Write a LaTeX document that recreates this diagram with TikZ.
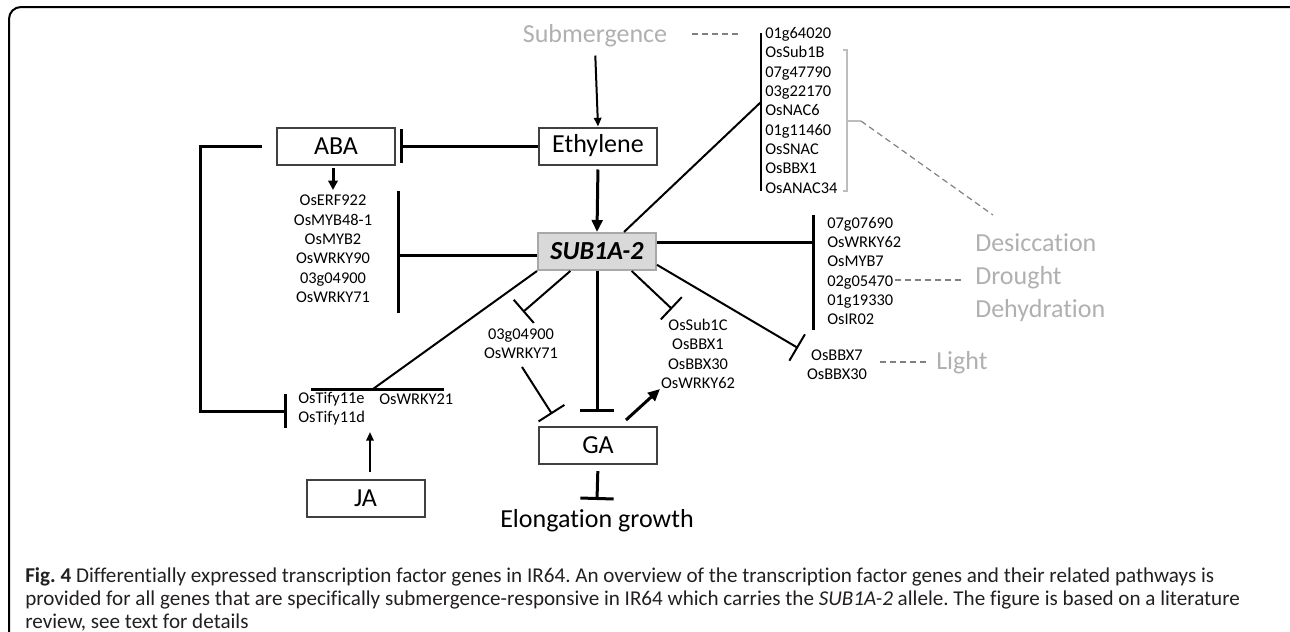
\documentclass[tikz,border=0pt]{standalone}
\usepackage{fontspec}
\usepackage{graphicx}
\setmainfont{Carlito}[Ligatures=NoCommon]
\usetikzlibrary{arrows.meta}
\definecolor{boxgray}{HTML}{404040}
\definecolor{txtgray}{HTML}{B0B0B0}
\definecolor{dashgray}{HTML}{808080}
\definecolor{brgray}{HTML}{BDBDBD}
\definecolor{subfill}{HTML}{D9D9D9}
\definecolor{subdraw}{HTML}{A8A8A8}
\definecolor{captxt}{HTML}{231F20}
\begin{document}
\begin{tikzpicture}[x=0.75pt,y=-0.75pt,
  box/.style={draw=boxgray, line width=1.5pt, minimum width=88.5pt, minimum height=27.75pt, inner sep=0pt, font=\fontsize{19.5}{23}\selectfont},
  big/.style={font=\fontsize{19.5}{23.25}\selectfont, inner sep=0pt},
  lst/.style={font=\fontsize{12.3}{14.5}\selectfont, inner sep=0pt},
  thk/.style={line width=2.25pt},
  thn/.style={line width=1.5pt},
  arrT/.style={-{Triangle[length=9pt,width=8pt]}},
  arrt/.style={-{Triangle[length=6.5pt,width=5.5pt]}},
  inhT/.style={-{Bar[width=25pt]}},
  inht/.style={-{Bar[width=23pt]}},
  dsh/.style={draw=dashgray, line width=0.9pt, dash pattern=on 4.5pt off 3pt},
]
\useasboundingbox (0,0) rectangle (1290,632);
\draw[line width=1.5pt, rounded corners=9pt] (9,7) rectangle (1304,644);

% nodes
\node[big, text=txtgray] (sub) at (595,36) {Submergence};
\node[box] (eth) at (598,146) {Ethylene};
\node[box] (aba) at (336,146) {ABA};
\node[box, fill=subfill, draw=subdraw, font=\fontsize{19.5}{23}\selectfont\bfseries\itshape] (s1a) at (597,251.5) {SUB1A-2};
\node[box] (ga) at (598,445) {GA};
\node[box] (ja) at (365.5,498.5) {JA};
\node[big] (elong) at (597,521) {Elongation growth};
\node[lst, align=center] (abal) at (333,249) {OsERF922\\OsMYB48-1\\OsMYB2\\OsWRKY90\\03g04900\\OsWRKY71};
\node[lst, align=left, anchor=west] (upl) at (765,110.5) {01g64020\\OsSub1B\\07g47790\\03g22170\\OsNAC6\\01g11460\\OsSNAC\\OsBBX1\\OsANAC34};
\node[lst, align=left, anchor=west] (rl) at (827,271) {07g07690\\OsWRKY62\\OsMYB7\\02g05470\\01g19330\\OsIR02};
\node[lst, align=center] (bbx) at (837,365) {OsBBX7\\OsBBX30};
\node[lst, align=center] (s1c) at (698,354) {OsSub1C\\OsBBX1\\OsBBX30\\OsWRKY62};
\node[lst, align=center] (wrk) at (521,343.5) {03g04900\\OsWRKY71};
\node[lst, align=left, anchor=west] (tify) at (298,408.5) {OsTify11e\\OsTify11d};
\node[lst, anchor=west] (wr21) at (379,399) {OsWRKY21};
\node[big, align=left, anchor=west, text=txtgray] (des) at (975,278) {Desiccation\\[1.5pt]Drought\\[1.5pt]Dehydration};
\node[big, anchor=west, text=txtgray] (light) at (936,363) {Light};

% free-end coordinates
\coordinate (abaA) at (333,168);
\coordinate (abaB) at (333,190);
\coordinate (abab1) at (398,191);
\coordinate (abab2) at (398,313);
\coordinate (abah) at (398,255);
\coordinate (rb1) at (813,215);
\coordinate (rb2) at (813,330);
\coordinate (rbh) at (813,242);
\coordinate (ub1) at (761,33);
\coordinate (ub2) at (761,191);
\coordinate (ubh) at (761,102);
\coordinate (tb1) at (311,389);
\coordinate (tb2) at (444,389);
\coordinate (tbh) at (373,389);
\coordinate (fbc) at (200,411);
\coordinate (fbe) at (287,411);
\coordinate (bbxT) at (798,348);
\coordinate (s1cT) at (672,309);
\coordinate (gaT) at (597,412);
\coordinate (wrkT) at (523,312);
\coordinate (wrkS) at (522,367);
\coordinate (gaL) at (552,414);
\coordinate (gaR) at (626,420);
\coordinate (s1cA) at (660,389);
\coordinate (elT) at (597,500);
\coordinate (jaT) at (370,432);
\coordinate (subD1) at (692,34);
\coordinate (subD2) at (738,34);
\coordinate (rlD1) at (895,280);
\coordinate (rlD2) at (961,280);
\coordinate (liD1) at (880,362);
\coordinate (liD2) at (927,362);
\coordinate (br1) at (843,50);
\coordinate (br2) at (847,50);
\coordinate (br3) at (847,191);
\coordinate (br4) at (843,191);
\coordinate (brm) at (847,121);
\coordinate (brm2) at (861,121);
\coordinate (brD) at (993,215);

% connectors
\draw[thn, arrt, shorten <=6pt] (sub.south) -- (eth.north);
\draw[dsh] (subD1) -- (subD2);
\draw[thk, arrT, shorten <=3pt] (eth.south) -- (s1a.north);
\draw[thk, inhT] (eth.west) -- ([xshift=3pt]aba.east);
\draw[thk, inhT] ([xshift=-10.5pt]aba.west) -| (fbc) -- (fbe);
\draw[thk, -{Triangle[length=7pt,width=7pt]}] (abaA) -- (abaB);
\draw[thk] (abab1) -- (abab2);
\draw[thk] (s1a.west |- abah) -- (abah);
\draw[thk] (rb1) -- (rb2);
\draw[thk] (s1a.east |- rbh) -- (rbh);
\draw[dsh] (rlD1) -- (rlD2);
\draw[thn, inht] ([yshift=-10pt]s1a.east) -- (bbxT);
\draw[dsh] (liD1) -- (liD2);
\draw[thn, inht] ([xshift=26pt]s1a.south) -- (s1cT);
\draw[thk, inhT] (s1a.south) -- (gaT);
\draw[thn, inht] ([xshift=-20pt]s1a.south) -- (wrkT);
\draw[thn, inht] (wrkS) -- (gaL);
\draw[thk, -{Triangle[length=9pt,width=8pt]}] (gaR) -- (s1cA);
\draw[thk, inhT, shorten <=5pt] (ga.south) -- (elT);
\draw[thn, arrt, shorten <=5.25pt] (ja.north -| jaT) -- (jaT);
\draw[thk] (tb1) -- (tb2);
\draw[thn] (s1a.south west) -- (tbh);
\draw[thn] ([xshift=20.25pt]s1a.north) -- (ubh);
\draw[line width=1.8pt] (ub1) -- (ub2);
\draw[draw=brgray, line width=1.2pt] (br1) -- (br2) -- (br3) -- (br4);
\draw[draw=brgray, line width=1.2pt] (brm) -- (brm2);
\draw[dsh] (brm2) -- (brD);

% caption
\node[anchor=north west, inner sep=0pt, text=captxt] (cap) at (25,566) {\resizebox{911pt}{!}{\fontsize{14.5}{15.8}\selectfont\frenchspacing\begin{tabular}{@{}l@{}}\textbf{Fig. 4} Differentially expressed transcription factor genes in IR64. An overview of the transcription factor genes and their related pathways is\\provided for all genes that are specifically submergence-responsive in IR64 which carries the \textit{SUB1A-2} allele. The figure is based on a literature\\review, see text for details\end{tabular}}};
\end{tikzpicture}
\end{document}
